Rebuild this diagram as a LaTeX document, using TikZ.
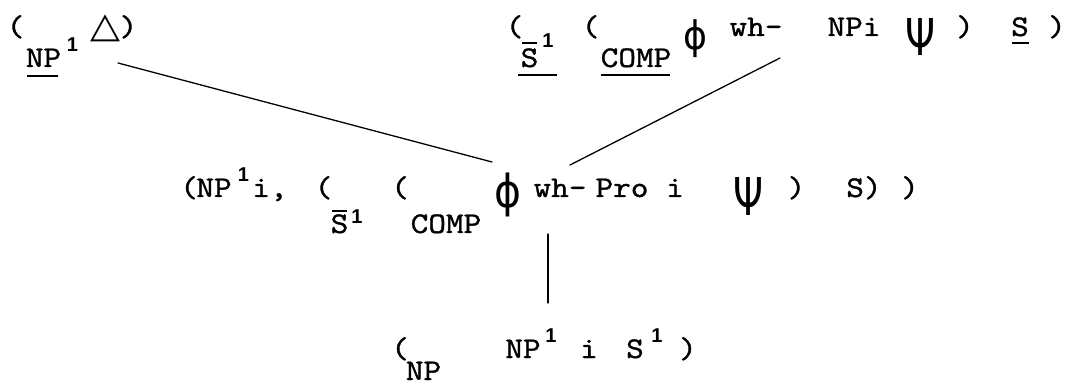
\documentclass[tikz,border=0pt]{standalone}
\usepackage{fontspec}
\usepackage{graphicx}
\usetikzlibrary{calc}
\newfontfamily\twfam[FakeStretch=1.12, FakeBold=1.1]{lmmono10-regular.otf}
\newfontfamily\supfam{Liberation Sans Bold}
\newfontfamily\symfam{DejaVu Sans}
\newcommand\typew{\twfam\fontsize{30}{36}\selectfont}
\newcommand\suptxt{\supfam\fontsize{20}{22}\selectfont}
\tikzset{
  tw/.style={inner sep=0pt, anchor=base, font=\typew},
  supone/.style={inner sep=0pt, anchor=base, font=\suptxt},
  glyph/.style={inner sep=0pt, anchor=north west, font=\symfam},
  ln/.style={line width=1.3pt, line cap=round},
  ul/.style={line width=1.4pt}
}
\begin{document}
\begin{tikzpicture}[x=1pt,y=-1pt]
\useasboundingbox (0,0) rectangle (1071,387);
% ---- top left: ( NP^1 triangle )
\node[tw] (tlo) at (15.5,36) {(};
\node[tw] (tlnp) at (43.5,67) {NP};
\node[supone] (tlone) at (72.5,52) {1};
\node[glyph] (tltri) at (90,15) {\resizebox*{30pt}{27pt}{△}};
\node[tw] (tlc) at (128.5,36) {)};
\draw[ul] ($(tlnp.base west)+(1,9)$) -- ($(tlnp.base east)+(-3,9)$);
% ---- top right
\node[tw] (tro) at (514.5,36) {(};
\node[tw] (trs) at (529.5,67) {S};
\node[supone] (trone) at (548,48) {1};
\draw[ul] ($(trs.base west)+(2,-24)$) -- ($(trs.base east)+(-2,-24)$);
\draw[ul] ($(trs.base west)+(-2,8)$) -- ($(trs.base west)+(37,8)$);
\node[tw] (tro2) at (590.5,36) {(};
\node[tw] (trcomp) at (636,67) {COMP};
\draw[ul] ($(trcomp.base west)+(0,8)$) -- ($(trcomp.base east)+(-1,8)$);
\node[glyph] (trphi) at (683,19) {\resizebox*{24pt}{38pt}{ϕ}};
\node[tw] (trwh) at (756,36) {wh-};
\node[tw] (trnpi) at (854,36) {NPi};
\node[glyph] (trpsi) at (905,18) {\resizebox*{30pt}{37pt}{Ψ}};
\node[tw] (trc1) at (965,36) {)};
\node[tw] (trsS) at (1020,36) {S};
\draw[ul] ($(trsS.base west)+(1,7)$) -- ($(trsS.base east)+(0,7)$);
\node[tw] (trc2) at (1057,36) {)};
% ---- middle row
\node[tw] (mo) at (189,197) {(};
\node[tw] (mnp) at (214,197) {NP};
\node[supone] (mone) at (243.5,182) {1};
\node[tw] (mi) at (270,197) {i,};
\node[tw] (mo2) at (323.5,197) {(};
\node[tw] (ms) at (339.5,233) {S};
\draw[ul] ($(ms.base west)+(2,-22)$) -- ($(ms.base east)+(-2,-22)$);
\node[supone] (msone) at (357,224) {1};
\node[tw] (mo3) at (400,197) {(};
\node[tw] (mcomp) at (446,233) {COMP};
\node[glyph] (mphi) at (494,173) {\resizebox*{27pt}{44pt}{ϕ}};
\node[tw] (mwh) at (560,197) {wh-};
\node[tw] (mpro) at (622,197) {Pro};
\node[tw] (mi2) at (675,197) {i};
\node[glyph] (mpsi) at (733,177) {\resizebox*{30pt}{38pt}{Ψ}};
\node[tw] (mc1) at (796.5,197) {)};
\node[tw] (msc) at (864,197) {S)};
\node[tw] (mc2) at (910,197) {)};
% ---- bottom row
\node[tw] (bo) at (400,358) {(};
\node[tw] (bnpsub) at (423.5,380) {NP};
\node[tw] (bnp) at (523,358) {NP};
\node[supone] (bone) at (551,342) {1};
\node[tw] (bi) at (589,358) {i};
\node[tw] (bs) at (635,358) {S};
\node[supone] (bsone) at (657,342) {1};
\node[tw] (bc) at (688,358) {)};
% ---- connectors
\coordinate (la1) at (118,63);
\coordinate (la2) at (492,162);
\coordinate (lb1) at (780,58);
\coordinate (lb2) at (570,165);
\coordinate (lc1) at (548,234);
\coordinate (lc2) at (548,303);
\draw[ln] (la1) -- (la2);
\draw[ln] (lb1) -- (lb2);
\draw[ln] (lc1) -- (lc2);
\end{tikzpicture}
\end{document}
